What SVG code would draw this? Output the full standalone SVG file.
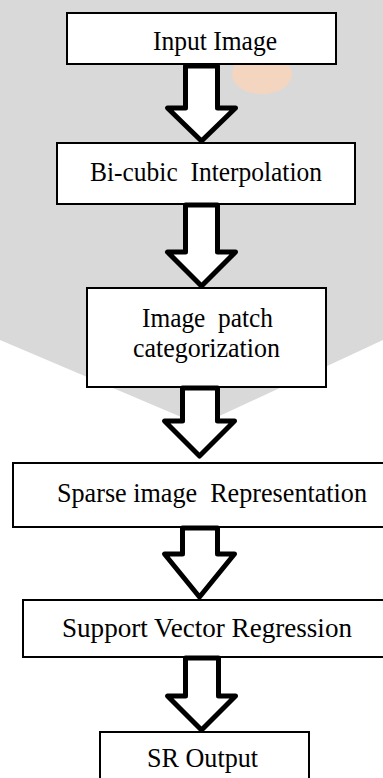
<svg xmlns="http://www.w3.org/2000/svg" width="383" height="778" viewBox="0 0 383 778">
  <style>
    .box { fill: #ffffff; stroke: #000000; stroke-width: 2; }
    .arrow { fill: #ffffff; stroke: #000000; stroke-width: 5; stroke-linejoin: round; }
    .lbl { font-family: "Liberation Serif", "Times New Roman", serif; font-size: 27px; fill: #000000; }
  </style>
  <rect x="0" y="0" width="383" height="778" fill="#ffffff"/>
  <g id="watermark">
    <polygon points="0,0 383,0 383,340 200,425 0,340" fill="#d9d9d9"/>
    <ellipse cx="262" cy="74" rx="30" ry="20" fill="#f4d5c0"/>
  </g>
  <g id="node-input">
    <rect class="box" x="67" y="13" width="269" height="51"/>
    <text class="lbl" x="153" y="50" textLength="124" lengthAdjust="spacingAndGlyphs">Input Image</text>
  </g>
  <g id="node-bicubic">
    <rect class="box" x="57" y="143" width="298" height="61"/>
    <text class="lbl" x="90" y="181" textLength="232" lengthAdjust="spacingAndGlyphs" xml:space="preserve">Bi-cubic  Interpolation</text>
  </g>
  <g id="node-patch">
    <rect class="box" x="87" y="288" width="239" height="99"/>
    <text class="lbl" x="142" y="327" textLength="131" lengthAdjust="spacingAndGlyphs" xml:space="preserve">Image  patch</text>
    <text class="lbl" x="133" y="357" textLength="147" lengthAdjust="spacingAndGlyphs">categorization</text>
  </g>
  <g id="node-sparse">
    <rect class="box" x="13" y="463" width="380" height="64"/>
    <text class="lbl" x="57" y="502" textLength="310" lengthAdjust="spacingAndGlyphs" xml:space="preserve">Sparse image  Representation</text>
  </g>
  <g id="node-svr">
    <rect class="box" x="23" y="600" width="370" height="57"/>
    <text class="lbl" x="62" y="637" textLength="290" lengthAdjust="spacingAndGlyphs">Support Vector Regression</text>
  </g>
  <g id="node-output">
    <rect class="box" x="100" y="732" width="209" height="60"/>
    <text class="lbl" x="147" y="767" textLength="111" lengthAdjust="spacingAndGlyphs">SR Output</text>
  </g>
  <g id="connectors">
    <path class="arrow" d="M185.5,66 L217.5,66 L217.5,108 L235.5,108 L201.5,141 L167.5,108 L185.5,108 Z"/>
    <path class="arrow" d="M185.5,205 L217.5,205 L217.5,252 L235.5,252 L201.5,286 L167.5,252 L185.5,252 Z"/>
    <path class="arrow" d="M182.5,388 L217.5,388 L217.5,421 L234.5,421 L199.5,456 L164.5,421 L182.5,421 Z"/>
    <path class="arrow" d="M182.5,528 L217.5,528 L217.5,554 L234.5,554 L199.5,597 L164.5,554 L182.5,554 Z"/>
    <path class="arrow" d="M185.5,658 L218.5,658 L218.5,696 L235.5,696 L201.5,730 L167.5,696 L185.5,696 Z"/>
  </g>
</svg>
